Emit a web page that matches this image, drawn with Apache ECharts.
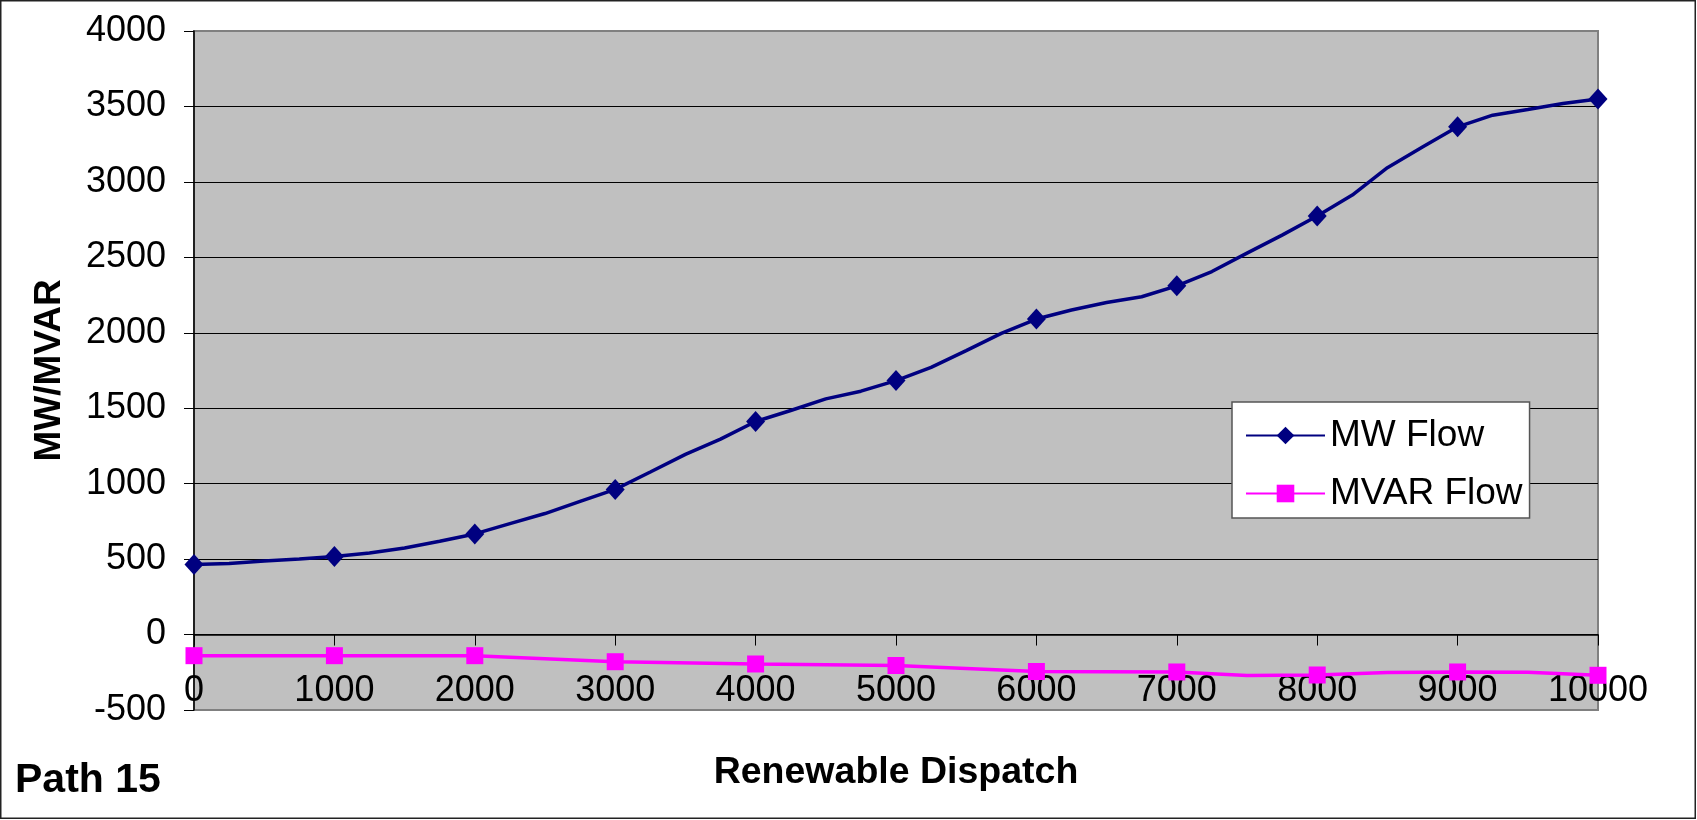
<!DOCTYPE html>
<html>
<head>
<meta charset="utf-8">
<title>Path 15</title>
<script src="https://cdn.jsdelivr.net/npm/echarts@6/dist/echarts.min.js"></script>
<style>
  html, body { margin: 0; padding: 0; background: #ffffff; }
  #chart { width: 1697px; height: 820px; }
</style>
</head>
<body>
<div id="chart"></div>
<script>
// Renewable dispatch levels (MW) at which flows were recorded
const dispatch = [
  0, 250, 500, 750, 1000, 1250, 1500, 1750, 2000, 2250, 2500, 2750,
  3000, 3250, 3500, 3750, 4000, 4250, 4500, 4750, 5000, 5250, 5500, 5750,
  6000, 6250, 6500, 6750, 7000, 7250, 7500, 7750, 8000, 8250, 8500, 8750,
  9000, 9250, 9500, 9750, 10000
];

// Path 15 real power flow (MW)
const mwFlow = [
  464, 471, 488, 501, 517, 541, 574, 618, 667, 735, 802, 883,
  962, 1077, 1194, 1295, 1412, 1485, 1562, 1613, 1683, 1771, 1882, 1996,
  2091, 2151, 2201, 2239, 2311, 2406, 2528, 2647, 2774, 2913, 3094, 3231,
  3365, 3442, 3480, 3520, 3550
];

// Reactive power flow (MVAR) and the dispatch levels it was recorded at
const mvarDispatch = [0, 1000, 2000, 3000, 4000, 5000, 6000, 7000, 7500, 8000, 8500, 9000, 9500, 10000];
const mvarFlow     = [-140, -140, -140, -180, -195, -205, -245, -248, -272, -268, -252, -248, -250, -270];

// Axis tick settings
const xTicks = { min: 0, max: 10000, step: 1000 };
const yTicks = { min: -500, max: 4000, step: 500 };

const FONT = '"Liberation Sans", Arial, sans-serif';

// Markers are drawn only at whole-thousand dispatch levels
function toPoints(xs, ys) {
  return xs.map((x, i) => {
    const item = { value: [x, ys[i]] };
    if (x % 1000 !== 0) item.symbol = 'none';
    return item;
  });
}

const plain = (v) => String(v);

const chart = echarts.init(document.getElementById('chart'), null, { renderer: 'canvas' });

// Split lines: grey at the plot edges, black inside
const splitColors = [];
for (let v = yTicks.min; v <= yTicks.max; v += yTicks.step) {
  splitColors.push(v === yTicks.min || v === yTicks.max ? '#808080' : '#000000');
}

chart.setOption({
  animation: false,
  backgroundColor: '#ffffff',
  textStyle: { fontFamily: FONT },
  title: {
    text: 'Path 15',
    left: 15,
    top: 760,
    padding: 0,
    textStyle: { fontFamily: FONT, fontSize: 41, fontWeight: 'bold', color: '#000000' }
  },
  graphic: [{
    type: 'rect',
    silent: true,
    z: 100,
    shape: { x: 0.75, y: 0.75, width: 1694.5, height: 817.5 },
    style: { fill: 'none', stroke: '#222222', lineWidth: 1.5 }
  }],
  grid: {
    left: 194,
    top: 31,
    right: 99,
    bottom: 110,
    outerBoundsMode: 'none',
    containLabel: false,
    show: true,
    backgroundColor: '#C0C0C0',
    borderColor: '#808080',
    borderWidth: 2
  },
  legend: {
    left: 1232,
    top: 402,
    orient: 'vertical',
    backgroundColor: '#ffffff',
    borderColor: '#555555',
    borderWidth: 1.5,
    borderRadius: 0,
    padding: [15, 7, 6, 13],
    itemWidth: 79,
    itemHeight: 22,
    itemGap: 21,
    textStyle: { fontFamily: FONT, fontSize: 37, color: '#000000' },
    data: ['MW Flow', 'MVAR Flow']
  },
  xAxis: {
    type: 'value',
    min: xTicks.min,
    max: xTicks.max,
    interval: xTicks.step,
    name: 'Renewable Dispatch',
    nameLocation: 'middle',
    nameGap: 44,
    nameMoveOverlap: false,
    nameTextStyle: { fontFamily: FONT, fontSize: 37.5, fontWeight: 'bold', color: '#000000' },
    axisLine: { onZero: true, lineStyle: { color: '#000000', width: 1.5 } },
    axisTick: { show: true, inside: false, length: 11, lineStyle: { color: '#000000', width: 1 } },
    axisLabel: {
      fontFamily: FONT, fontSize: 36, color: '#000000', margin: -37,
      formatter: plain,
      showMinLabel: true, showMaxLabel: true, hideOverlap: false
    },
    splitLine: { show: false }
  },
  yAxis: {
    type: 'value',
    min: yTicks.min,
    max: yTicks.max,
    interval: yTicks.step,
    name: 'MW/MVAR',
    nameLocation: 'middle',
    nameGap: 126,
    nameTextStyle: { fontFamily: FONT, fontSize: 37, fontWeight: 'bold', color: '#000000' },
    axisLine: { show: true, onZero: false, lineStyle: { color: '#000000', width: 1.5 } },
    axisTick: { show: true, inside: false, length: 10, lineStyle: { color: '#000000', width: 1 } },
    axisLabel: { fontFamily: FONT, fontSize: 36, color: '#000000', margin: 28, formatter: plain },
    splitLine: { show: true, lineStyle: { color: splitColors, width: 1 } }
  },
  series: [
    {
      name: 'MW Flow',
      type: 'line',
      data: toPoints(dispatch, mwFlow),
      symbol: 'diamond',
      symbolSize: [19, 21],
      showAllSymbol: true,
      clip: false,
      lineStyle: { color: '#000080', width: 3.5 },
      itemStyle: { color: '#000080' },
      z: 3
    },
    {
      name: 'MVAR Flow',
      type: 'line',
      data: toPoints(mvarDispatch, mvarFlow),
      symbol: 'rect',
      symbolSize: [17, 17],
      showAllSymbol: true,
      clip: false,
      lineStyle: { color: '#FF00FF', width: 3.5 },
      itemStyle: { color: '#FF00FF' },
      z: 3
    }
  ]
});
</script>
</body>
</html>
